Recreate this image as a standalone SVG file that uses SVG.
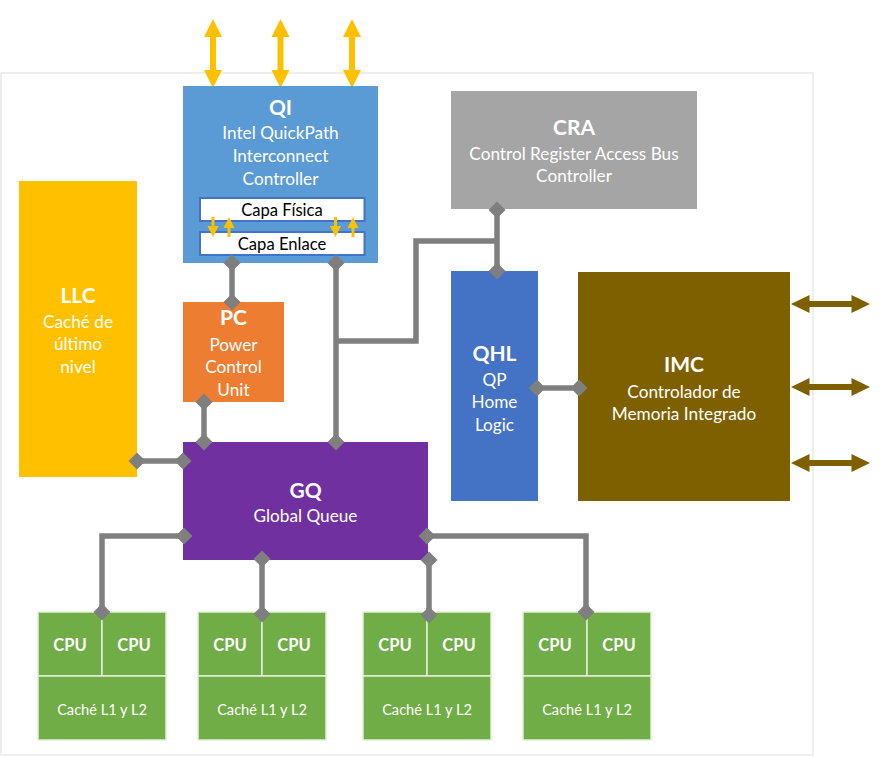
<svg xmlns="http://www.w3.org/2000/svg" xmlns:xlink="http://www.w3.org/1999/xlink" width="889" height="757" viewBox="0 0 889 757">
<style>
text{font-family:Lato,"Open Sans","Liberation Sans",sans-serif;text-anchor:middle;fill:#fff}
.t{font-weight:bold;font-size:21px}
.s{font-size:17.2px}
.cpu{font-weight:bold;font-size:16.5px}
.ca{font-size:14.6px}
.cap{font-size:16.6px;fill:#000}
.ln{fill:none;stroke:#7f7f7f;stroke-width:5.5}
.cell{fill:#70ad47;stroke:#e2f0d9;stroke-width:1.5}
</style>
<defs>
<polygon id="dm" points="0,-8.5 8.5,0 0,8.5 -8.5,0" fill="#7f7f7f"/>
<polygon id="va" points="0,-34.5 9,-16.5 3,-16.5 3,16.5 9,16.5 0,34.5 -9,16.5 -3,16.5 -3,-16.5 -9,-16.5" fill="#ffc000"/>
<polygon id="ha" points="-39.5,0 -21,-9 -21,-3 21,-3 21,-9 39.5,0 21,9 21,3 -21,3 -21,9" fill="#7f6000"/>
<polygon id="dn" points="-1.5,0 1.5,0 1.5,9 5.5,9 0,20 -5.5,9 -1.5,9" fill="#ffc000"/>
<polygon id="up" points="-1.5,20 1.5,20 1.5,11 5.5,11 0,0 -5.5,11 -1.5,11" fill="#ffc000"/>
</defs>
<rect x="1" y="73" width="812" height="682" fill="#fff" stroke="#eeeeee" stroke-width="2"/>

<g id="qi-arrows">
<use xlink:href="#va" x="213" y="53.5"/>
<use xlink:href="#va" x="280.5" y="53.5"/>
<use xlink:href="#va" x="352" y="53.5"/>
</g>

<g id="QI">
<rect x="183" y="86" width="195" height="177" fill="#5b9bd5"/>
<text class="t" x="280.5" y="115">QI</text>
<text class="s" x="280.5" y="139">Intel QuickPath</text>
<text class="s" x="280.5" y="162">Interconnect</text>
<text class="s" x="280.5" y="185">Controller</text>
<rect x="200" y="198" width="164.5" height="23" fill="#fff" stroke="#4472c4" stroke-width="2"/>
<text class="cap" x="282" y="215.5">Capa Física</text>
<rect x="200" y="232" width="164.5" height="23" fill="#fff" stroke="#4472c4" stroke-width="2"/>
<text class="cap" x="282" y="249.5">Capa Enlace</text>
<use xlink:href="#dn" x="213" y="217"/>
<use xlink:href="#up" x="229" y="217"/>
<use xlink:href="#dn" x="335.5" y="217"/>
<use xlink:href="#up" x="353" y="217"/>
</g>

<g id="CRA">
<rect x="451" y="91" width="246" height="118" fill="#a5a5a5"/>
<text class="t" x="574" y="135">CRA</text>
<text class="s" x="574" y="160">Control Register Access Bus</text>
<text class="s" x="574" y="182">Controller</text>
</g>

<g id="LLC">
<rect x="19" y="181" width="118" height="296" fill="#ffc000"/>
<text class="t" x="78" y="303">LLC</text>
<text class="s" x="78" y="328">Caché de</text>
<text class="s" x="78" y="350">último</text>
<text class="s" x="78" y="373">nivel</text>
</g>

<g id="PC">
<rect x="183" y="302" width="101" height="100" fill="#ed7d31"/>
<text class="t" x="233.5" y="325">PC</text>
<text class="s" x="233.5" y="351">Power</text>
<text class="s" x="233.5" y="373">Control</text>
<text class="s" x="233.5" y="396">Unit</text>
</g>

<g id="QHL">
<rect x="451" y="271" width="87" height="230" fill="#4472c4"/>
<text class="t" x="494.5" y="361">QHL</text>
<text class="s" x="494.5" y="386">QP</text>
<text class="s" x="494.5" y="408">Home</text>
<text class="s" x="494.5" y="431">Logic</text>
</g>

<g id="IMC">
<rect x="578" y="272" width="212" height="229" fill="#7f6000"/>
<text class="t" x="684" y="372">IMC</text>
<text class="s" x="684" y="398">Controlador de</text>
<text class="s" x="684" y="420">Memoria Integrado</text>
</g>

<g id="imc-arrows">
<use xlink:href="#ha" x="830.5" y="304"/>
<use xlink:href="#ha" x="830.5" y="387"/>
<use xlink:href="#ha" x="830.5" y="463"/>
</g>

<g id="GQ">
<rect x="183" y="442" width="245" height="118" fill="#7030a0"/>
<text class="t" x="305.5" y="498">GQ</text>
<text class="s" x="305.5" y="522">Global Queue</text>
</g>

<g id="core1">
<rect class="cell" x="38" y="612" width="64" height="64"/>
<rect class="cell" x="102" y="612" width="64" height="64"/>
<rect class="cell" x="38" y="676" width="128" height="64"/>
<text class="cpu" x="70" y="651">CPU</text>
<text class="cpu" x="134" y="651">CPU</text>
<text class="ca" x="102" y="715">Caché L1 y L2</text>
</g>
<g id="core2">
<rect class="cell" x="198" y="612" width="64" height="64"/>
<rect class="cell" x="262" y="612" width="64" height="64"/>
<rect class="cell" x="198" y="676" width="128" height="64"/>
<text class="cpu" x="230" y="651">CPU</text>
<text class="cpu" x="294" y="651">CPU</text>
<text class="ca" x="262" y="715">Caché L1 y L2</text>
</g>
<g id="core3">
<rect class="cell" x="363" y="612" width="64" height="64"/>
<rect class="cell" x="427" y="612" width="64" height="64"/>
<rect class="cell" x="363" y="676" width="128" height="64"/>
<text class="cpu" x="395" y="651">CPU</text>
<text class="cpu" x="459" y="651">CPU</text>
<text class="ca" x="427" y="715">Caché L1 y L2</text>
</g>
<g id="core4">
<rect class="cell" x="523" y="612" width="64" height="64"/>
<rect class="cell" x="587" y="612" width="64" height="64"/>
<rect class="cell" x="523" y="676" width="128" height="64"/>
<text class="cpu" x="555" y="651">CPU</text>
<text class="cpu" x="619" y="651">CPU</text>
<text class="ca" x="587" y="715">Caché L1 y L2</text>
</g>

<g id="connectors">
<path class="ln" d="M232,263 V302"/>
<path class="ln" d="M204,402 V442"/>
<path class="ln" d="M336,263 V442"/>
<path class="ln" d="M336,341 H416 V241 H497"/>
<path class="ln" d="M497,209 V271"/>
<path class="ln" d="M137,461 H183"/>
<path class="ln" d="M538,388 H578"/>
<path class="ln" d="M183,536 H102 V612"/>
<path class="ln" d="M262,560 V612"/>
<path class="ln" d="M428,536 H586 V612"/>
<path class="ln" d="M429,560 V612"/>
<use xlink:href="#dm" x="232" y="263"/>
<use xlink:href="#dm" x="232" y="302"/>
<use xlink:href="#dm" x="204" y="402"/>
<use xlink:href="#dm" x="204" y="442"/>
<use xlink:href="#dm" x="336" y="263"/>
<use xlink:href="#dm" x="336" y="442"/>
<use xlink:href="#dm" x="497" y="210"/>
<use xlink:href="#dm" x="497" y="271"/>
<use xlink:href="#dm" x="137" y="461"/>
<use xlink:href="#dm" x="183" y="461"/>
<use xlink:href="#dm" x="537" y="388"/>
<use xlink:href="#dm" x="579" y="388"/>
<use xlink:href="#dm" x="184" y="536"/>
<use xlink:href="#dm" x="102" y="612"/>
<use xlink:href="#dm" x="262" y="559"/>
<use xlink:href="#dm" x="262" y="614"/>
<use xlink:href="#dm" x="427" y="536"/>
<use xlink:href="#dm" x="586" y="612"/>
<use xlink:href="#dm" x="429" y="560"/>
<use xlink:href="#dm" x="429" y="615"/>
</g>
</svg>
